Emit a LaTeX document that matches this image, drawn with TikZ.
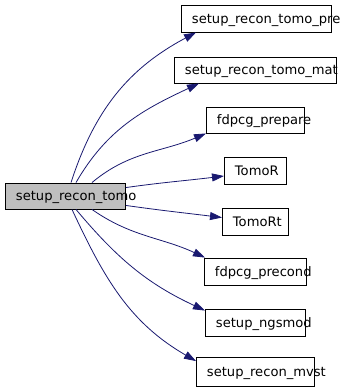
\documentclass[tikz,border=0pt]{standalone}
\usepackage{fontspec}
\setmainfont{DejaVu Sans}
\usetikzlibrary{arrows.meta}
\definecolor{edgeblue}{HTML}{191970}
\definecolor{rootgray}{HTML}{BFBFBF}
\tikzset{
	func/.style={draw=black, line width=0.9pt, anchor=west, align=left, inner xsep=10.5pt, inner ysep=0pt,
		text height=9.5pt, text depth=0pt, font=\fontsize{13.1}{14}\selectfont},
	root/.style={func, fill=rootgray},
	call/.style={draw=edgeblue, line width=0.8pt, -{Triangle[length=12pt,width=8pt]}, edgeblue}
}

\begin{document}
\begin{tikzpicture}[x=1pt, y=-1pt]
			%%%%% START %%%%%
			\useasboundingbox (0, 0) rectangle (341, 392);
			
			\node[root, text width=99pt, minimum height=26pt] (tomo) at (5, 196) {setup\_recon\_tomo};
			
			\node[func, text width=129pt, minimum height=27pt] (pre) at (181, 18.5) {setup\_recon\_tomo\_pre};
			\node[func, text width=141pt, minimum height=26pt] (mat) at (174, 70) {setup\_recon\_tomo\_mat};
			\node[func, text width=77pt, minimum height=26pt] (prepare) at (206, 120) {fdpcg\_prepare};
			\node[func, text width=41pt, minimum height=27pt] (tomor) at (224, 170.5) {TomoR};
			\node[func, text width=45pt, minimum height=27pt] (tomort) at (222, 221.5) {TomoRt};
			\node[func, text width=81pt, minimum height=27pt] (precond) at (204, 271.5) {fdpcg\_precond};
			\node[func, text width=79pt, minimum height=27pt] (ngsmod) at (205, 322.5) {setup\_ngsmod};
			\node[func, text width=97pt, minimum height=29pt] (mvst) at (196, 372) {setup\_recon\_mvst};
			
			\draw[call] ([xshift=66pt]tomo.north west) to[out=72, in=208] ([xshift=15pt]pre.south west);
			\draw[call] ([xshift=71pt]tomo.north west) to[out=60, in=205] ([xshift=25pt]mat.south west);
			\draw[call] ([xshift=87pt]tomo.north west) to[out=40, in=203] (prepare.south west);
			\draw[call] ([yshift=-5pt]tomo.north east) to[out=8, in=187] ([yshift=-5.5pt]tomor.west);
			\draw[call] ([yshift=4pt]tomo.south east) to[out=-8, in=173] ([yshift=4pt]tomort.west);
			\draw[call] ([xshift=87pt]tomo.south west) to[out=-35, in=155] ([xshift=1pt]precond.north west);
			\draw[call] ([xshift=71pt]tomo.south west) to[out=-50, in=155] ([yshift=-2pt]ngsmod.north west);
			\draw[call] ([xshift=67pt]tomo.south west) to[out=-65, in=150] ([yshift=-4pt]mvst.north west);
			
			%%%%% END %%%%%
\end{tikzpicture}
\end{document}
